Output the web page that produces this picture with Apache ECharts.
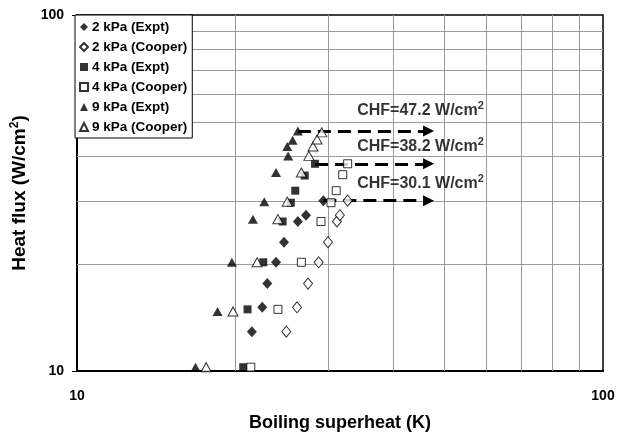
<!DOCTYPE html>
<html><head><meta charset="utf-8">
<script src="https://cdn.jsdelivr.net/npm/echarts@6/dist/echarts.min.js"></script>
<style>html,body{margin:0;padding:0;background:#fff}#c{width:619px;height:437px}</style>
</head><body><div id="c"></div>
<script>
// ---- data ----
const seriesNames = ['2 kPa (Expt)','2 kPa (Cooper)','4 kPa (Expt)','4 kPa (Cooper)','9 kPa (Expt)','9 kPa (Cooper)'];
const x2Expt   = [21.5, 22.5, 23.0, 23.9, 24.75, 26.3, 27.25, 29.4];
const y2Expt   = [12.9, 15.1, 17.6, 20.2, 23.0, 26.3, 27.4, 30.1];
const x2Cooper = [25.0, 26.2, 27.5, 28.8, 30.0, 31.2, 31.6, 32.7];
const y2Cooper = [12.9, 15.1, 17.6, 20.2, 23.0, 26.3, 27.4, 30.1];
const x4Expt   = [20.7, 21.1, 22.6, 24.6, 25.5, 26.0, 27.1, 28.35];
const y4Expt   = [10.25, 14.9, 20.2, 26.3, 29.7, 32.1, 35.4, 38.2];
const x4Cooper = [21.4, 24.1, 26.7, 29.1, 30.4, 31.1, 32.0, 32.7];
const y4Cooper = [10.25, 14.9, 20.2, 26.3, 29.7, 32.1, 35.6, 38.2];
const x9Expt   = [16.8, 18.5, 19.7, 21.6, 22.7, 23.9, 25.2, 25.1, 25.7, 26.3];
const y9Expt   = [10.25, 14.7, 20.2, 26.7, 29.9, 36.1, 40.2, 42.7, 44.5, 47.2];
const x9Cooper = [17.6, 19.8, 22.0, 24.1, 25.1, 26.7, 27.6, 28.1, 28.6, 29.2];
const y9Cooper = [10.25, 14.7, 20.2, 26.7, 29.9, 36.1, 40.2, 42.7, 44.7, 46.8];
const chfValues = [47.2, 38.2, 30.1];
const chfStartX = [26.3, 28.35, 29.4];
const chfEndX = 46.6;
const chfLabelX = 34.1;
const xTicks = [10, 100];
const yTicks = [10, 100];
const gridVals = [20, 30, 40, 50, 60, 70, 80, 90];

// ---- chart ----
const zip = (xs, ys) => xs.map((x, i) => [x, ys[i]]);
const chart = echarts.init(document.getElementById('c'), null, {renderer: 'canvas'});
const FONT = 'Arial, "Liberation Sans", sans-serif';
const filled = {color: '#000', borderColor: '#000', borderWidth: 0};
const hollow = {color: '#fff', borderColor: '#000', borderWidth: 1};
const sets = [
  {x: x2Expt, y: y2Expt, sym: 'diamond', size: [10, 11], st: filled},
  {x: x2Cooper, y: y2Cooper, sym: 'diamond', size: [9, 11], st: hollow},
  {x: x4Expt, y: y4Expt, sym: 'rect', size: 8, st: filled},
  {x: x4Cooper, y: y4Cooper, sym: 'rect', size: 8, st: hollow},
  {x: x9Expt, y: y9Expt, sym: 'triangle', size: [10, 9], st: filled},
  {x: x9Cooper, y: y9Cooper, sym: 'triangle', size: [10, 9], st: hollow}
];
const dataSeries = sets.map((s, i) => ({
  name: seriesNames[i], type: 'scatter', z: 5,
  symbol: s.sym, symbolSize: s.size, itemStyle: s.st,
  data: zip(s.x, s.y), clip: false
}));

const labelOffsets = [-20, -17, -17];
const option = {
  backgroundColor: '#fff',
  animation: false,
  grid: {left: 77, right: 16, top: 15, bottom: 65, show: true, borderColor: '#000', borderWidth: 1.5, backgroundColor: 'transparent'},
  legend: {
    orient: 'vertical', left: 75, top: 15,
    data: seriesNames,
    backgroundColor: '#fff', borderColor: '#000', borderWidth: 1,
    padding: [5, 5, 4, 4], itemGap: 6, itemWidth: 8, itemHeight: 8,
    textStyle: {fontFamily: FONT, fontWeight: 'bold', fontSize: 13.5, color: '#000', lineHeight: 14, padding: [0, 0, 0, -1]},
    z: 10
  },
  xAxis: {
    type: 'log', logBase: 10, min: xTicks[0], max: xTicks[1],
    name: 'Boiling superheat (K)', nameLocation: 'middle', nameGap: 43,
    nameTextStyle: {fontFamily: FONT, fontWeight: 'bold', fontSize: 18, color: '#000'},
    axisLine: {lineStyle: {color: '#000', width: 2}},
    axisTick: {show: false},
    axisLabel: {fontFamily: FONT, fontWeight: 'bold', fontSize: 14, color: '#000', margin: 18},
    splitLine: {show: false}
  },
  yAxis: {
    type: 'log', logBase: 10, min: yTicks[0], max: yTicks[1],
    name: '{a|Heat flux (W/cm}{s|2}{a|)}', nameLocation: 'middle', nameGap: 27,
    nameTextStyle: {rich: {
      a: {fontFamily: FONT, fontWeight: 'bold', fontSize: 19, color: '#000', lineHeight: 24},
      s: {fontFamily: FONT, fontWeight: 'bold', fontSize: 12, color: '#000', verticalAlign: 'top', lineHeight: 12}
    }},
    axisLine: {lineStyle: {color: '#000', width: 2}},
    axisTick: {show: true, length: 5, inside: false, lineStyle: {color: '#000', width: 1}},
    axisLabel: {fontFamily: FONT, fontWeight: 'bold', fontSize: 14, color: '#000', margin: 13},
    splitLine: {show: false}
  },
  series: [
    {
      type: 'scatter', data: [], z: 1, silent: true,
      markLine: {
        silent: true, symbol: 'none', animation: false,
        label: {show: false},
        lineStyle: {color: '#999', width: 1, type: 'solid'},
        data: gridVals.map(v => ({xAxis: v})).concat(gridVals.map(v => ({yAxis: v})))
      }
    },
    ...dataSeries,
    {
      type: 'scatter', data: [], z: 6, silent: true,
      markLine: {
        silent: true, animation: false, symbol: ['none', 'triangle'], symbolSize: [11, 11],
        label: {show: false},
        lineStyle: {color: '#000', width: 3, type: [13, 7]},
        data: chfValues.map((v, i) => [{coord: [chfStartX[i], v]}, {coord: [chfEndX, v]}])
      }
    },
    {
      type: 'scatter', z: 7, silent: true, symbolSize: 0,
      data: chfValues.map((v, i) => ({
        value: [chfLabelX, v],
        label: {
          show: true, position: 'right', distance: 0, offset: [0, labelOffsets[i]],
          formatter: '{a|CHF=' + v.toFixed(1) + ' W/cm}{s|2}',
          rich: {
            a: {fontFamily: FONT, fontWeight: 'bold', fontSize: 16, color: '#000', lineHeight: 21},
            s: {fontFamily: FONT, fontWeight: 'bold', fontSize: 11, color: '#000', verticalAlign: 'top', lineHeight: 11}
          }
        }
      }))
    }
  ]
};
chart.setOption(option);
</script>
</body></html>
